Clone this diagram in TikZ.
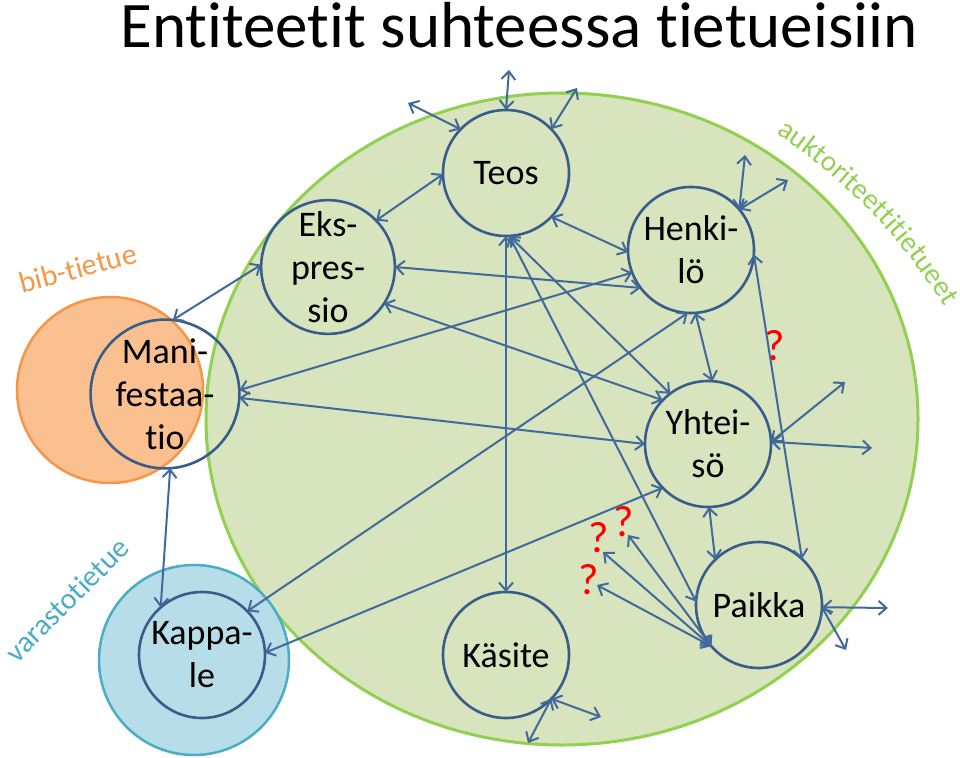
\documentclass[tikz,border=0pt]{standalone}
\usepackage{fontspec}
\setmainfont{Carlito}[Ligatures=NoCommon]
\usetikzlibrary{arrows.meta,decorations.text}
\definecolor{entc}{HTML}{385D8A}
\definecolor{linkc}{HTML}{41699C}
\definecolor{greenfill}{HTML}{D7E4BD}
\definecolor{greenline}{HTML}{92D050}
\definecolor{orangefill}{HTML}{FAC090}
\definecolor{orangeline}{HTML}{F79646}
\definecolor{bluefill}{HTML}{B7DEE8}
\definecolor{blueline}{HTML}{4BACC6}
\begin{document}
\begin{tikzpicture}[x=1pt,y=-1pt,
  entity/.style={circle,draw=entc,line width=2.6pt,minimum size=126pt,inner sep=0pt,outer sep=0pt,align=center,font=\fontsize{36}{43}\selectfont},
  link/.style={draw=linkc,line width=2pt,{Straight Barb[length=8pt,width=14pt]}-{Straight Barb[length=8pt,width=14pt]}},
  qmark/.style={text=red,font=\fontsize{44}{48}\selectfont,inner sep=0pt},
  reclabel/.style={font=\fontsize{30}{34}\selectfont,inner sep=0pt}]
\useasboundingbox (0,0) rectangle (960,757);
% record areas
\draw[fill=orangefill,draw=orangeline,line width=2.5pt] (110,390) circle[radius=93];
\draw[fill=greenfill,draw=greenline,line width=3pt] (562,419) ellipse[x radius=356,y radius=326];
\draw[fill=bluefill,draw=blueline,line width=2.5pt] (194,660) circle[radius=95];
% title and labels
\node[font=\fontsize{65}{70}\selectfont,anchor=base,inner sep=0pt] (title) at (519,48) {Entiteetit suhteessa tietueisiin};
\node[reclabel,text=orangeline,rotate=15] (bib) at (78,268) {bib-tietue};
\node[reclabel,text=blueline,rotate=45] (varasto) at (67,600) {varastotietue};
\path[decorate,decoration={text along path,text={|\fontsize{29}{34}\selectfont|auktoriteettitietueet},text color=greenline,text align=left}]
  (776,134) arc[start angle=-57,end angle=-24,radius=545];
% entities
\node[entity] (mani) at (165,394) {Mani-\\festaa-\\tio};
\node[entity] (kap) at (202,655) {Kappa-\\le};
\node[entity] (eks) at (328,267) {Eks-\\pres-\\sio};
\node[entity] (teos) at (506,173) {Teos};
\node[entity] (henk) at (691,250) {Henki-\\lö};
\node[entity] (yht) at (708,444) {Yhtei-\\sö};
\node[entity] (paik) at (759,605) {Paikka};
\node[entity] (kas) at (506,655) {Käsite};
% free ends
\coordinate (tl) at (408,103);
\coordinate (tu) at (509,70);
\coordinate (tr) at (577,88);
\coordinate (hu) at (745,155);
\coordinate (hr) at (788,180);
\coordinate (yr1) at (845,382);
\coordinate (yr2) at (872,448);
\coordinate (pr) at (888,608);
\coordinate (pd) at (846,650);
\coordinate (kd) at (528,743);
\coordinate (kr) at (601,717);
\coordinate (qa) at (628,535);
\coordinate (qb) at (603,552);
\coordinate (qc) at (597,585);
% question marks
\node[qmark] (qh) at (775,346) {?};
\node[qmark] (q1) at (624,522) {?};
\node[qmark] (q2) at (599,538) {?};
\node[qmark] (q3) at (589,580) {?};
% connectors
\draw[link] (mani.84) -- (eks.178);
\draw[link] (eks.44) -- (teos.181);
\draw[link] (teos.136) -- (tl);
\draw[link] (teos.90) -- (tu);
\draw[link] (teos.44) -- (tr);
\draw[link] (teos.-44) -- (henk.182);
\draw[link] (eks.0) -- (henk.217);
\draw[link] (mani.3) -- (henk.201);
\draw[link] (mani.-3) -- (yht.180);
\draw[link] (eks.-33) -- (yht.136);
\draw[link] (teos.-87) -- (yht.127);
\draw[link] (teos.-87) -- (paik.177);
\draw[link] (teos.-90) -- (kas.90);
\draw[link] (henk.-86) -- (yht.86);
\draw[link] (henk.-93) -- (kap.44);
\draw[link] (yht.224) -- (kap.2);
\draw[link] (mani.-86) -- (kap.131);
\draw[link] (henk.40) -- (hu);
\draw[link] (henk.40) -- (hr);
\draw[link] (henk.-4) -- (paik.47);
\draw[link] (yht.2) -- (yr1);
\draw[link] (yht.2) -- (yr2);
\draw[link] (yht.-89) -- (paik.134);
\draw[link] (paik.-2) -- (pr);
\draw[link] (paik.-2) -- (pd);
\draw[link] (paik.221) -- (qa);
\draw[link] (paik.221) -- (qb);
\draw[link] (paik.221) -- (qc);
\draw[link] (kas.-44) -- (kd);
\draw[link] (kas.-44) -- (kr);
\end{tikzpicture}
\end{document}
